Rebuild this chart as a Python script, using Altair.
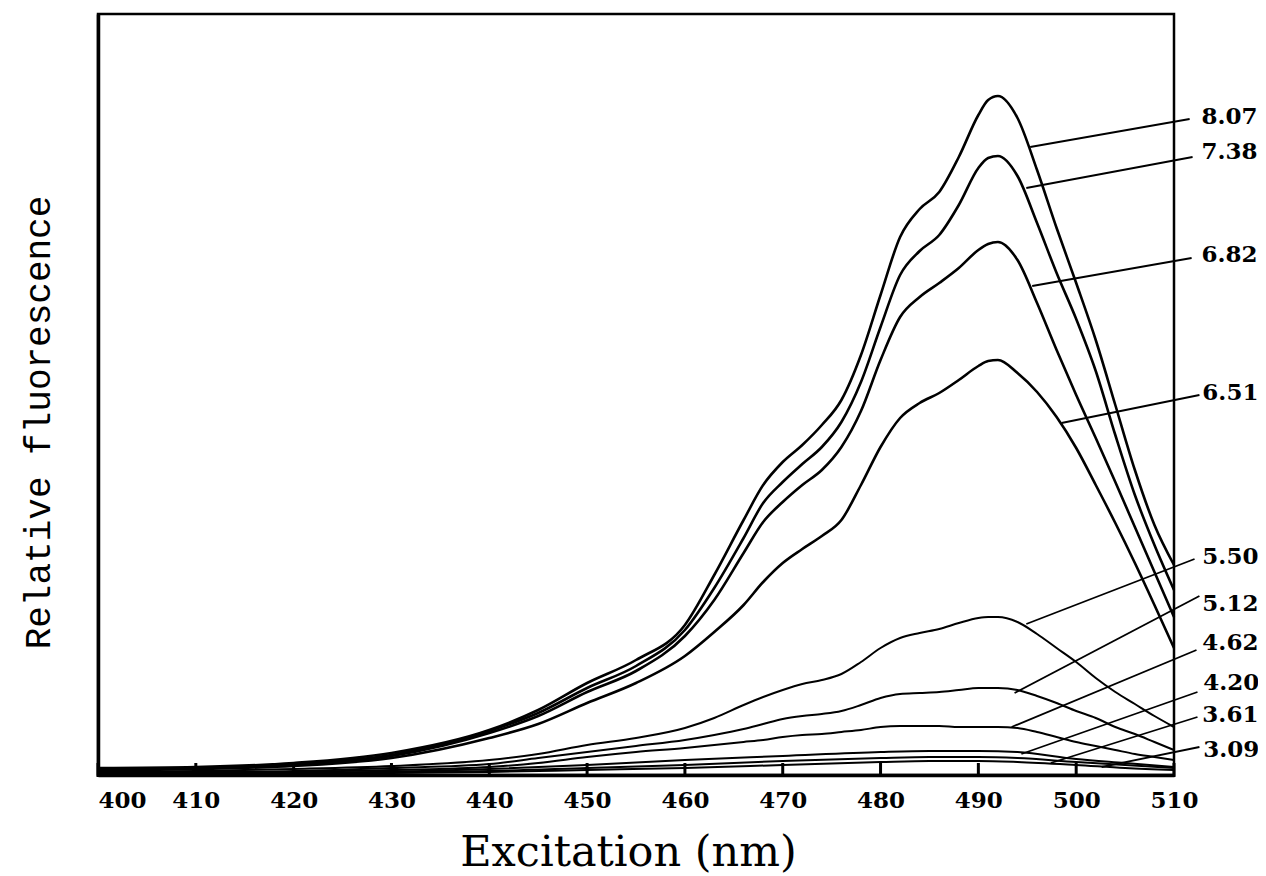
import altair as alt
import pandas as pd

# Wavelength grids (nm)
WL = [400, 410, 420, 430, 440, 445, 450, 455, 460, 463, 466, 468, 470, 472, 474, 476,
      478, 480, 482, 484, 486, 488, 490, 491, 492, 494, 496, 498, 500, 502, 504, 506, 508, 510]
WL_LOW = [400, 420, 440, 450, 460, 470, 480, 485, 490, 494, 500, 505, 510]

# Relative fluorescence (arbitrary units), one list per pH
PH_807 = [7, 8, 12, 22, 45, 65, 92, 115, 150, 200, 255, 290, 313, 330, 350, 375,
          420, 480, 538, 566, 583, 618, 660, 675, 679, 657, 605, 547, 492, 435, 370, 305, 250, 210]
PH_738 = [6, 7, 11, 20, 44, 62, 87, 109, 145, 187, 237, 272, 293, 311, 328, 353,
          393, 448, 500, 524, 540, 570, 607, 617, 619, 599, 552, 502, 456, 404, 340, 280, 230, 185]
PH_682 = [5, 7, 10, 19, 42, 59, 83, 104, 139, 175, 222, 253, 273, 290, 305, 328,
          364, 415, 458, 478, 492, 507, 525, 531, 533, 515, 472, 425, 380, 337, 293, 248, 203, 158]
PH_651 = [4, 6, 9, 17, 37, 51, 72, 92, 119, 143, 170, 193, 212, 226, 239, 255,
          290, 328, 357, 372, 382, 395, 409, 414, 415, 402, 383, 358, 327, 290, 252, 212, 170, 127]
PH_550 = [3, 4, 6, 9, 15, 21, 30, 37, 47, 57, 70, 78, 85, 91, 95, 101,
          113, 127, 137, 142, 146, 152, 157, 158, 158, 153, 141, 127, 113, 97, 83, 71, 59, 48]
PH_512 = [2, 3, 4, 7, 11, 17, 23, 29, 35, 40, 46, 51, 56, 59, 61, 64,
          70, 77, 81, 82, 83, 85, 87, 87, 87, 85, 79, 72, 64, 57, 48, 41, 33, 25]
PH_462 = [2, 2, 3, 5, 8, 12, 18, 23, 27, 30, 33, 35, 38, 40, 41, 43,
          45, 48, 49, 49, 49, 48, 48, 48, 48, 47, 43, 38, 33, 29, 25, 21, 18, 15]
PH_420 = [1, 2, 6, 10, 15, 19, 23, 24, 24, 23, 16, 12, 8]
PH_361 = [1, 2, 4, 7, 10, 14, 17, 18, 18, 17, 13, 10, 7]
PH_309 = [0, 1, 3, 5, 7, 10, 13, 14, 14, 13, 10, 7, 5]

MAJOR = {"8.07": PH_807, "7.38": PH_738, "6.82": PH_682, "6.51": PH_651}
MINOR = {"5.50": PH_550, "5.12": PH_512, "4.62": PH_462}
LOW = {"4.20": PH_420, "3.61": PH_361, "3.09": PH_309}

# Label annotations (pH), leader lines from curve to label
LABELS = ["8.07", "7.38", "6.82", "6.51", "5.50", "5.12", "4.62", "4.20", "3.61", "3.09"]
LEADER_START_NM = [495.3, 494.9, 495.5, 498.5, 494.9, 493.7, 493.4, 494.4, 497.4, 502.6]
LEADER_START_VAL = [628, 587, 489, 352, 151, 82, 48, 21, 12, 8]
LEADER_END_NM = [511.6, 511.9, 511.8, 512.6, 512.1, 512.6, 512.3, 512.4, 512.4, 512.6]
LEADER_END_VAL = [656, 618, 517, 380, 216, 179, 125, 83, 58, 28]
LABEL_NM = [512.8, 512.8, 512.8, 512.9, 512.9, 512.9, 512.9, 513.0, 512.9, 513.0]
LABEL_VAL = [658, 623, 520, 382, 218, 171, 132, 92, 60, 25]

TICKS = [400, 410, 420, 430, 440, 450, 460, 470, 480, 490, 500, 510]

rows = []
for name, vals in MAJOR.items():
    for w, v in zip(WL, vals):
        rows.append({"pH": name, "wl": w, "val": v, "grp": "major"})
for name, vals in MINOR.items():
    for w, v in zip(WL, vals):
        rows.append({"pH": name, "wl": w, "val": v, "grp": "minor"})
for name, vals in LOW.items():
    for w, v in zip(WL_LOW, vals):
        rows.append({"pH": name, "wl": w, "val": v, "grp": "minor"})
curves = pd.DataFrame(rows)

leaders = pd.DataFrame({
    "label": LABELS, "x": LEADER_START_NM, "y": LEADER_START_VAL,
    "x2": LEADER_END_NM, "y2": LEADER_END_VAL,
    "lx": LABEL_NM, "ly": LABEL_VAL,
})
ticks = pd.DataFrame({"t": TICKS})

W, H = 1076, 761
xscale = alt.Scale(domain=[400, 510], nice=False, zero=False)
yscale = alt.Scale(domain=[0, 761], nice=False, zero=True)

xaxis = alt.Axis(
    values=TICKS, format="d", ticks=False, tickSize=0, grid=False,
    labelFont="DejaVu Serif", labelFontWeight="bold", labelFontSize=23, labelColor="black",
    labelPadding=14,
    labelAlign={"condition": {"test": "datum.value === 400", "value": "left"}, "value": "center"},
    domainColor="black", domainWidth=3.5,
    title="Excitation (nm)", titleFont="DejaVu Serif", titleFontSize=43, titleFontWeight="normal",
    titleColor="black", titleX=530, titleY=77, titleBaseline="middle", titleAlign="center",
)
yaxis = alt.Axis(
    ticks=False, labels=False, grid=False, domainColor="black", domainWidth=3.5,
    title="Relative fluorescence", titleFont="Liberation Mono", titleFontSize=36,
    titleFontWeight="normal", titleColor="black", titleX=-60, titleY=408,
    titleAngle=270, titleBaseline="middle", titleAlign="center",
)

base = alt.Chart(curves).encode(
    x=alt.X("wl:Q", scale=xscale, axis=xaxis),
    y=alt.Y("val:Q", scale=yscale, axis=yaxis),
    detail="pH:N",
)
major = base.transform_filter(alt.datum.grp == "major").mark_line(
    color="black", strokeWidth=2.6, interpolate="monotone")
minor = base.transform_filter(alt.datum.grp == "minor").mark_line(
    color="black", strokeWidth=2.0, interpolate="monotone")

lead = alt.Chart(leaders).mark_rule(color="black", strokeWidth=1.8).encode(
    x=alt.X("x:Q", scale=xscale), y=alt.Y("y:Q", scale=yscale),
    x2="x2:Q", y2="y2:Q")
labels = alt.Chart(leaders).mark_text(
    align="left", baseline="middle", font="DejaVu Serif", fontWeight="bold",
    fontSize=23, color="black").encode(
    x=alt.X("lx:Q", scale=xscale), y=alt.Y("ly:Q", scale=yscale), text="label:N")

tickmarks = alt.Chart(ticks).mark_rule(color="black", strokeWidth=3).encode(
    x=alt.X("t:Q", scale=xscale), y=alt.value(H - 12), y2=alt.value(H + 2))

chart = alt.layer(minor, major, lead, labels, tickmarks).properties(
    width=W, height=H,
    autosize=alt.AutoSizeParams(type="none"),
    padding={"left": 90, "top": 6, "right": 84, "bottom": 100},
).configure(
    background="white",
    view=alt.ViewConfig(stroke="black", strokeWidth=2.5),
)

chart.save("out.html", embed_options={"renderer": "svg", "actions": False})
